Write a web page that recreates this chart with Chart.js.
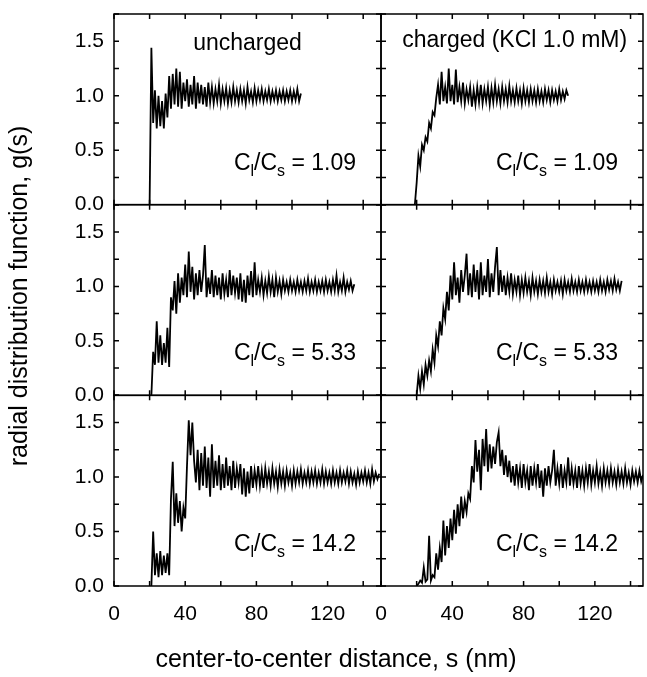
<!DOCTYPE html>
<html>
<head>
<meta charset="utf-8">
<script src="https://cdn.jsdelivr.net/npm/chart.js@4.4.0/dist/chart.umd.min.js"></script>
<style>
  html, body { margin: 0; padding: 0; background: #fff; }
  #wrap { position: relative; width: 647px; height: 677px; }
</style>
</head>
<body>
<div id="wrap"><canvas id="gsChart" width="647" height="677"></canvas></div>
<script>
// g(s), 1 nm steps starting at the given distance (nm)
const sStep = 1;

const sStartUncharged109 = 20;
const gUncharged109 = [
  0.00, 1.44, 0.75, 1.05, 0.70, 1.00, 0.72, 0.95, 0.70, 1.02,
  0.80, 1.18, 0.88, 1.20, 0.92, 1.25, 0.90, 1.22, 0.88, 1.12,
  0.95, 1.15, 0.90, 1.10, 0.92, 1.18, 0.88, 1.12, 0.93, 1.10,
  0.92, 1.08, 0.90, 1.12, 0.94, 1.08, 0.93, 1.06, 0.95, 1.10,
  0.93, 1.06, 0.95, 1.07, 0.93, 1.05, 0.94, 1.08, 0.95, 1.05,
  0.94, 1.06, 0.95, 1.05, 0.93, 1.08, 0.96, 1.04, 0.94, 1.07,
  0.95, 1.05, 0.96, 1.06, 0.95, 1.04, 0.96, 1.06, 0.95, 1.04,
  0.96, 1.05, 0.95, 1.04, 0.96, 1.05, 0.95, 1.04, 0.96, 1.05,
  0.95, 1.04, 0.96, 1.06, 0.95, 1.02
];

const sStartCharged109 = 19;
const gCharged109 = [
  0.00, 0.20, 0.45, 0.35, 0.55, 0.50, 0.62, 0.58, 0.75, 0.70,
  0.85, 0.82, 0.98, 1.10, 0.92, 1.22, 0.95, 1.08, 0.93, 1.25,
  0.95, 1.10, 0.92, 1.24, 0.94, 1.08, 0.95, 1.12, 0.93, 1.06,
  0.96, 1.08, 0.90, 1.05, 0.92, 1.08, 0.94, 1.10, 0.93, 1.06,
  0.95, 1.08, 0.92, 1.07, 0.94, 1.10, 0.95, 1.06, 0.93, 1.08,
  0.95, 1.06, 0.94, 1.09, 0.95, 1.05, 0.94, 1.07, 0.95, 1.05,
  0.93, 1.07, 0.95, 1.05, 0.94, 1.06, 0.95, 1.05, 0.94, 1.06,
  0.95, 1.04, 0.94, 1.06, 0.96, 1.05, 0.94, 1.05, 0.96, 1.04,
  0.95, 1.06, 0.96, 1.04, 0.97, 1.05, 1.00
];

const sStartUncharged533 = 21;
const gUncharged533 = [
  0.00, 0.40, 0.28, 0.68, 0.30, 0.55, 0.28, 0.48, 0.30, 0.62,
  0.26, 0.90, 0.78, 1.05, 0.75, 1.12, 0.85, 1.08, 0.92, 1.20,
  0.90, 1.32, 0.95, 1.18, 0.88, 1.12, 0.92, 1.15, 0.95, 1.10,
  1.38, 0.90, 1.08, 0.93, 1.15, 0.90, 1.10, 0.92, 1.08, 0.88,
  1.12, 0.93, 1.06, 0.90, 1.15, 0.92, 1.10, 0.94, 1.08, 0.88,
  1.12, 0.86, 1.06, 0.85, 1.10, 0.92, 1.14, 0.90, 1.22, 0.92,
  1.06, 0.95, 1.08, 0.92, 1.05, 0.94, 1.09, 0.95, 1.06, 0.90,
  1.08, 0.95, 1.05, 0.93, 1.06, 0.96, 1.04, 0.95, 1.06, 0.96,
  1.04, 0.95, 1.06, 0.96, 1.04, 0.95, 1.05, 0.96, 1.07, 0.95,
  1.04, 0.96, 1.06, 0.95, 1.04, 0.96, 1.05, 0.95, 1.06, 0.96,
  1.04, 0.95, 1.06, 0.96, 1.10, 0.95, 1.04, 0.96, 1.08, 0.95,
  1.04, 0.97, 1.05, 0.96, 1.02
];

const sStartCharged533 = 20;
const gCharged533 = [
  0.00, 0.18, 0.06, 0.22, 0.10, 0.28, 0.18, 0.32, 0.22, 0.42,
  0.30, 0.55, 0.45, 0.68, 0.55, 0.80, 0.70, 0.95, 0.78, 1.10,
  0.88, 1.22, 0.92, 1.08, 0.85, 1.15, 0.95, 1.10, 1.30, 0.92,
  1.12, 0.90, 1.20, 0.95, 1.15, 0.88, 1.22, 0.92, 1.10, 0.95,
  1.25, 0.90, 1.12, 0.95, 1.18, 1.36, 0.92, 1.15, 0.95, 1.10,
  0.92, 1.08, 0.95, 1.12, 0.93, 1.06, 0.95, 1.10, 0.92, 1.06,
  0.94, 1.08, 0.95, 1.05, 0.92, 1.08, 0.95, 1.05, 0.93, 1.06,
  0.95, 1.05, 0.94, 1.08, 0.95, 1.04, 0.93, 1.06, 0.96, 1.04,
  0.95, 1.05, 0.93, 1.06, 0.96, 1.04, 0.95, 1.07, 0.96, 1.04,
  0.95, 1.06, 0.96, 1.04, 0.95, 1.06, 0.96, 1.04, 0.95, 1.05,
  0.96, 1.04, 0.95, 1.06, 0.96, 1.04, 0.95, 1.06, 0.97, 1.05,
  0.96, 1.07, 0.97, 1.04, 0.96, 1.05
];

const sStartUncharged142 = 21;
const gUncharged142 = [
  0.00, 0.50, 0.10, 0.30, 0.08, 0.32, 0.10, 0.28, 0.12, 0.30,
  0.10, 0.80, 1.14, 0.55, 0.85, 0.58, 0.78, 0.50, 0.72, 0.62,
  1.10, 1.52, 1.20, 1.50, 1.15, 0.95, 1.25, 0.88, 1.22, 0.92,
  1.28, 0.90, 1.18, 0.82, 1.30, 0.90, 1.15, 0.92, 1.20, 0.88,
  1.12, 0.90, 1.18, 0.92, 1.10, 0.88, 1.15, 0.90, 1.08, 0.95,
  1.12, 0.84, 1.08, 0.82, 1.05, 0.85, 1.10, 0.90, 1.06, 0.93,
  1.10, 0.92, 1.06, 0.90, 1.08, 0.94, 1.05, 0.92, 1.08, 0.94,
  1.05, 0.91, 1.07, 0.94, 1.05, 0.92, 1.06, 0.95, 1.04, 0.92,
  1.06, 0.94, 1.05, 0.95, 1.07, 0.94, 1.04, 0.95, 1.06, 0.94,
  1.05, 0.95, 1.06, 0.94, 1.04, 0.95, 1.07, 0.94, 1.05, 0.95,
  1.04, 0.94, 1.06, 0.95, 1.04, 0.94, 1.06, 0.95, 1.04, 0.96,
  1.06, 0.94, 1.05, 0.95, 1.03, 0.93, 1.05, 0.95, 1.04, 0.96,
  1.06, 0.95, 1.04, 0.94, 1.07, 0.96, 1.04, 0.98, 1.03
];

const sStartCharged142 = 20;
const gCharged142 = [
  0.00, 0.02, 0.05, 0.03, 0.17, 0.04, 0.06, 0.46, 0.05, 0.10,
  0.08, 0.30, 0.15, 0.35, 0.22, 0.60, 0.28, 0.55, 0.35, 0.62,
  0.42, 0.70, 0.48, 0.75, 0.55, 0.82, 0.62, 0.78, 0.68, 0.85,
  0.80, 1.10, 0.95, 1.34, 1.05, 1.25, 0.88, 1.35, 1.10, 1.44,
  1.05, 1.30, 1.08, 1.28, 1.12, 1.32, 1.41, 1.10, 1.25, 1.02,
  1.20, 1.00, 1.15, 0.95, 1.10, 0.92, 1.12, 0.95, 1.08, 0.90,
  1.12, 0.95, 1.06, 0.88, 1.10, 0.92, 1.08, 0.95, 1.12, 0.90,
  1.06, 0.82, 1.08, 0.92, 1.10, 0.95, 1.06, 1.25, 0.92, 1.08,
  0.94, 1.12, 0.90, 1.06, 0.95, 1.18, 0.92, 1.08, 0.94, 1.06,
  0.90, 1.10, 0.94, 1.06, 0.92, 1.08, 0.95, 1.12, 0.93, 1.06,
  0.95, 1.10, 0.94, 1.05, 0.92, 1.08, 0.95, 1.06, 0.94, 1.08,
  0.95, 1.05, 0.93, 1.07, 0.95, 1.05, 0.94, 1.08, 0.95, 1.04,
  0.93, 1.06, 0.96, 1.05, 0.95, 1.06, 0.96, 1.02
];

const panelTitles = ['uncharged', 'charged (KCl 1.0 mM)'];
const ratioLabels = ['1.09', '1.09', '5.33', '5.33', '14.2', '14.2'];

const font = '"Liberation Sans", Arial, Helvetica, sans-serif';

function toPoints(start, values) {
  return values.map((g, i) => ({ x: start + i * sStep, y: g }));
}

function line(start, values, xId, yId) {
  return {
    data: toPoints(start, values),
    xAxisID: xId,
    yAxisID: yId,
    borderColor: '#000',
    borderWidth: 1.8,
    pointRadius: 0,
    tension: 0
  };
}

// panel -> axes and annotation anchor (data units)
const panels = [
  { x: 'xL', y: 'yTop', ratio: ratioLabels[0], rx: 136 },
  { x: 'xR', y: 'yTop', ratio: ratioLabels[1], rx: 133 },
  { x: 'xL', y: 'yMid', ratio: ratioLabels[2], rx: 136 },
  { x: 'xR', y: 'yMid', ratio: ratioLabels[3], rx: 133 },
  { x: 'xL', y: 'yBot', ratio: ratioLabels[4], rx: 136 },
  { x: 'xR', y: 'yBot', ratio: ratioLabels[5], rx: 133 }
];

function yAxis() {
  return {
    type: 'linear',
    position: 'left',
    stack: 'rows',
    stackWeight: 1,
    min: 0,
    max: 1.75,
    grid: { display: false, drawTicks: false },
    border: { display: false },
    ticks: {
      stepSize: 0.25,
      includeBounds: false,
      autoSkip: false,
      padding: 10,
      color: '#000',
      font: { family: font, size: 21 },
      callback: v => (Math.abs(v * 2 - Math.round(v * 2)) < 1e-6 && v <= 1.5) ? v.toFixed(1) : ''
    },
    afterFit: s => { s.width = 114; s.paddingTop = 0; s.paddingBottom = 0; }
  };
}

function xAxis(max, weight) {
  return {
    type: 'linear',
    position: 'bottom',
    stack: 'cols',
    stackWeight: weight,
    min: 0,
    max: max,
    grid: { display: false, drawTicks: false },
    border: { display: false },
    ticks: {
      stepSize: 20,
      includeBounds: false,
      autoSkip: false,
      maxRotation: 0,
      padding: 16,
      color: '#000',
      font: { family: font, size: 21 },
      callback: v => (v % 40 === 0 ? String(v) : '')
    },
    afterFit: s => { s.height = 91; s.paddingLeft = 0; s.paddingRight = 0; }
  };
}

const framePlugin = {
  id: 'framePlugin',
  afterDatasetsDraw(chart) {
    const ctx = chart.ctx;
    const tickLen = 5;
    ctx.save();
    ctx.strokeStyle = '#000';
    ctx.fillStyle = '#000';
    ctx.lineWidth = 1.5;

    panels.forEach(p => {
      const xs = chart.scales[p.x];
      const ys = chart.scales[p.y];
      const l = xs.left, r = xs.right, t = ys.top, b = ys.bottom;
      ctx.strokeRect(l, t, r - l, b - t);
      ctx.beginPath();
      xs.ticks.forEach(tk => {
        const px = xs.getPixelForValue(tk.value);
        ctx.moveTo(px, b); ctx.lineTo(px, b - tickLen);
        ctx.moveTo(px, t); ctx.lineTo(px, t + tickLen);
      });
      ys.ticks.forEach(tk => {
        const py = ys.getPixelForValue(tk.value);
        ctx.moveTo(l, py); ctx.lineTo(l + tickLen, py);
        ctx.moveTo(r, py); ctx.lineTo(r - tickLen, py);
      });
      ctx.stroke();

      // C_l/C_s = ratio, right aligned
      const parts = [
        ['C', 23, 0], ['l', 16, 6], ['/C', 23, 0], ['s', 16, 6], [' = ' + p.ratio, 23, 0]
      ];
      let total = 0;
      parts.forEach(pt => { ctx.font = pt[1] + 'px ' + font; total += ctx.measureText(pt[0]).width; });
      let cx = xs.getPixelForValue(p.rx) - total;
      const base = ys.getPixelForValue(0.32);
      ctx.textAlign = 'left';
      ctx.textBaseline = 'alphabetic';
      parts.forEach(pt => {
        ctx.font = pt[1] + 'px ' + font;
        ctx.fillText(pt[0], cx, base + pt[2]);
        cx += ctx.measureText(pt[0]).width;
      });
    });

    // column titles in top panels
    ctx.textAlign = 'center';
    ctx.font = '23px ' + font;
    ctx.fillText(panelTitles[0], chart.scales.xL.getPixelForValue(75), chart.scales.yTop.getPixelForValue(1.42));
    ctx.fillText(panelTitles[1], chart.scales.xR.getPixelForValue(75), chart.scales.yTop.getPixelForValue(1.445));

    // axis titles
    ctx.font = '25px ' + font;
    ctx.fillText('center-to-center distance, s (nm)', 336, 667);
    ctx.translate(27, 296);
    ctx.rotate(-Math.PI / 2);
    ctx.fillText('radial distribution function, g(s)', 0, 0);
    ctx.restore();
  }
};

new Chart(document.getElementById('gsChart'), {
  type: 'line',
  data: {
    datasets: [
      line(sStartUncharged109, gUncharged109, 'xL', 'yTop'),
      line(sStartCharged109, gCharged109, 'xR', 'yTop'),
      line(sStartUncharged533, gUncharged533, 'xL', 'yMid'),
      line(sStartCharged533, gCharged533, 'xR', 'yMid'),
      line(sStartUncharged142, gUncharged142, 'xL', 'yBot'),
      line(sStartCharged142, gCharged142, 'xR', 'yBot')
    ]
  },
  options: {
    responsive: false,
    animation: false,
    devicePixelRatio: 1,
    layout: { padding: { top: 14, right: 4, left: 0, bottom: 0 } },
    plugins: { legend: { display: false }, tooltip: { enabled: false } },
    scales: {
      // left-stacked axes are placed last-first, so the bottom row is listed first
      xL: xAxis(150, 267),
      xR: xAxis(147, 262),
      yBot: yAxis(),
      yMid: yAxis(),
      yTop: yAxis()
    }
  },
  plugins: [framePlugin]
});
</script>
</body>
</html>
